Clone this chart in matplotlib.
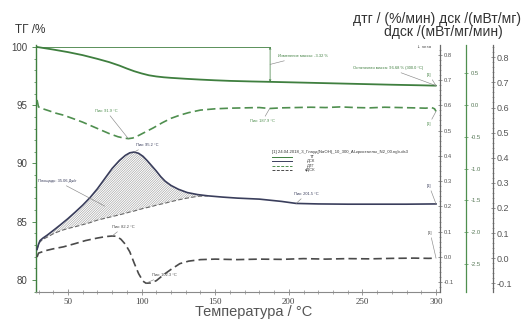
import numpy as np
import matplotlib
matplotlib.use("Agg")
import matplotlib.pyplot as plt
from matplotlib.lines import Line2D
from matplotlib.ticker import MultipleLocator, FormatStrFormatter

plt.rcParams['font.family'] = ['Liberation Sans', 'DejaVu Sans']
plt.rcParams['hatch.linewidth'] = 0.4

# ---------------- data ----------------
tg_T = [29, 35, 40, 50, 60, 70, 78, 85, 90, 95, 100, 105, 110, 115, 120, 130, 140,
        150, 160, 175, 190, 210, 230, 250, 270, 290, 300]
tg_v = [100.0, 99.88, 99.78, 99.56, 99.3, 98.98, 98.7, 98.4, 98.15, 97.92, 97.73, 97.57,
        97.47, 97.4, 97.35, 97.27, 97.2, 97.14, 97.09, 97.04, 97.0, 96.94, 96.88, 96.82,
        96.76, 96.71, 96.68]

dtg_T = [29, 30, 33, 37, 42, 47, 53, 60, 66, 72, 78, 84, 88, 91, 94, 98, 103, 108, 114,
         120, 126, 132, 140, 150, 160, 170, 180, 187, 195, 205, 215, 225, 235, 245, 255,
         265, 275, 285, 293, 297, 299, 300]
dtg_v = [0.08, -0.03, -0.06, -0.09, -0.13, -0.16, -0.21, -0.27, -0.33, -0.39, -0.45, -0.5,
         -0.52, -0.53, -0.52, -0.48, -0.42, -0.36, -0.28, -0.21, -0.16, -0.12, -0.08,
         -0.06, -0.05, -0.045, -0.04, -0.055, -0.045, -0.04, -0.035, -0.04, -0.03, -0.04,
         -0.045, -0.035, -0.04, -0.045, -0.05, -0.04, -0.06, -0.1]

dsc_T = [29, 30, 31, 33, 36, 40, 45, 50, 55, 60, 65, 70, 75, 80, 85, 89, 92, 95, 98, 101,
         104, 107, 110, 113, 116, 120, 125, 131, 138, 145, 155, 165, 180, 195, 205, 220,
         240, 260, 280, 300]
dsc_v = [0.03, 0.05, 0.065, 0.075, 0.087, 0.105, 0.128, 0.152, 0.178, 0.205, 0.235, 0.27,
         0.31, 0.35, 0.382, 0.402, 0.412, 0.415, 0.41, 0.398, 0.38, 0.36, 0.34, 0.318, 0.3,
         0.283, 0.268, 0.255, 0.247, 0.242, 0.237, 0.233, 0.229, 0.22, 0.212, 0.21, 0.209,
         0.209, 0.209, 0.21]
# integration baseline (same temperatures as the first dsc points)
base_v = [0.03, 0.05, 0.06, 0.07, 0.079, 0.092, 0.104, 0.113, 0.12, 0.128, 0.136, 0.146,
          0.153, 0.16, 0.167, 0.173, 0.178, 0.182, 0.187, 0.192, 0.196, 0.2, 0.205, 0.209,
          0.213, 0.219, 0.226, 0.233, 0.24, 0.242]

ddsc_T = [29, 30, 35, 40, 47, 55, 62, 70, 76, 80, 83, 86, 89, 92, 95, 98, 101, 103, 106,
          110, 115, 120, 126, 132, 140, 150, 165, 180, 195, 210, 225, 240, 255, 270, 285,
          295, 300]
ddsc_v = [0.004, 0.02, 0.03, 0.037, 0.045, 0.058, 0.07, 0.08, 0.086, 0.088, 0.087, 0.075,
          0.055, 0.025, -0.02, -0.062, -0.092, -0.1, -0.099, -0.09, -0.066, -0.045, -0.022,
          -0.012, -0.006, -0.004, -0.006, -0.004, -0.005, -0.002, -0.004, -0.002, -0.003,
          -0.001, 0.0, -0.001, 0.0]

x_ticks = [50, 100, 150, 200, 250, 300]
tg_ticks = [80, 85, 90, 95, 100]
dsc_ticks = [-0.1, 0.0, 0.1, 0.2, 0.3, 0.4, 0.5, 0.6, 0.7, 0.8]
dtg_ticks = [-2.5, -2.0, -1.5, -1.0, -0.5, 0.0, 0.5]
ddsc_ticks = [-0.1, 0.0, 0.1, 0.2, 0.3, 0.4, 0.5, 0.6, 0.7, 0.8]

# ---------------- style ----------------
C_TG = '#3f7f3f'
C_DTG = '#4f8f4f'
C_DSC = '#3a3e5c'
C_DDSC = '#4a4a4a'
C_LEAD = '#8a8a8a'

W_PX, H_PX = 523, 322
AX_L, AX_R, AX_T, AX_B = 36, 440, 45, 292

fig = plt.figure(figsize=(W_PX / 100, H_PX / 100), dpi=100)
ax = fig.add_axes([AX_L / W_PX, 1 - AX_B / H_PX, (AX_R - AX_L) / W_PX, (AX_B - AX_T) / H_PX])
ax.patch.set_alpha(0)


def pf(x, y):
    """pixel position -> axes fraction (for text placement)"""
    return ((x - AX_L) / (AX_R - AX_L), (AX_B - y) / (AX_B - AX_T))


ax.set_xlim(28.3, 302.7)
ax.set_ylim(78.97, 100.17)
for s in ['top', 'right']:
    ax.spines[s].set_visible(False)
ax.spines['left'].set_color(C_TG)
ax.spines['left'].set_linewidth(1.0)
ax.spines['bottom'].set_color('#8a8a8a')
ax.spines['bottom'].set_linewidth(0.8)
ax.set_xticks(x_ticks)
ax.xaxis.set_minor_locator(MultipleLocator(10))
ax.set_yticks(tg_ticks)
ax.yaxis.set_minor_locator(MultipleLocator(1))
ax.tick_params(axis='x', which='major', direction='inout', length=4, width=0.6,
               color='#8a8a8a', labelsize=6.5, labelcolor='#444444', pad=2)
ax.tick_params(axis='x', which='minor', direction='inout', length=2.5, width=0.5, color='#8a8a8a')
ax.tick_params(axis='y', which='major', direction='out', length=3, width=0.6,
               color=C_TG, labelsize=7, labelcolor='#444444', pad=3)
ax.tick_params(axis='y', which='minor', direction='out', length=1.5, width=0.5, color=C_TG)
for lab in ax.get_xticklabels():
    lab.set_family(['Liberation Sans Narrow', 'Liberation Serif', 'DejaVu Sans'])

fig.text(254 / W_PX, 1 - 312 / H_PX, 'Температура / °C', fontsize=10.5, color='#555555',
         va='center', ha='center')


def make_twin(offset, color, lim, ticks, minor, lsize, lcolor):
    t = ax.twinx()
    t.set_ylim(*lim)
    for s in ['left', 'top', 'bottom']:
        t.spines[s].set_visible(False)
    t.spines['right'].set_position(('outward', offset))
    t.spines['right'].set_color(color)
    t.spines['right'].set_linewidth(0.9)
    t.set_yticks(ticks)
    if minor:
        t.yaxis.set_minor_locator(MultipleLocator(minor))
    t.tick_params(axis='y', which='major', direction='inout', length=3, width=0.5,
                  color=color, labelsize=lsize, labelcolor=lcolor, pad=1.5)
    t.tick_params(axis='y', which='minor', direction='inout', length=1.5, width=0.4, color=color)
    t.yaxis.set_major_formatter(FormatStrFormatter('%.1f'))
    return t


ax_dsc = make_twin(0, '#6a6a6a', (-0.138, 0.838), dsc_ticks, 0.02, 4.2, '#555555')
ax_dtg = make_twin(19, C_DTG, (-2.945, 0.945), dtg_ticks, None, 4.2, '#557755')
ax_ddsc = make_twin(38, '#6a6a6a', (-0.135, 0.849), ddsc_ticks, 0.02, 6.5, '#555555')

# ---------------- curves ----------------
ax.plot(tg_T, tg_v, color=C_TG, lw=1.3, solid_capstyle='round')
ax_dtg.plot(dtg_T, dtg_v, color=C_DTG, lw=1.2, dashes=(5, 2.5))
nb = len(base_v)
ax_dsc.fill_between(dsc_T[:nb], base_v, dsc_v[:nb], facecolor='none', edgecolor='#999999',
                    hatch='/' * 14, linewidth=0)
ax_dsc.plot(dsc_T[:nb], base_v, color='#6a6a6a', lw=0.8, dashes=(4, 2))
ax_dsc.plot(dsc_T, dsc_v, color=C_DSC, lw=1.2)
ax_ddsc.plot(ddsc_T, ddsc_v, color=C_DDSC, lw=1.2, dashes=(5, 2.5))

# ---------------- annotations ----------------
lead = dict(arrowstyle='-', lw=0.45, color=C_LEAD, shrinkA=0, shrinkB=0)
fs = 2.9

# TG: mass change
T_mc = 187.3
tg_at = np.interp(T_mc, tg_T, tg_v)
ax.plot([tg_T[0], T_mc], [tg_v[0], tg_v[0]], color=C_TG, lw=0.6)
ax.annotate('', xy=(T_mc, tg_at), xytext=(T_mc, tg_v[0]),
            arrowprops=dict(arrowstyle='<->', lw=0.5, color=C_TG, mutation_scale=3,
                            shrinkA=0, shrinkB=0))
ax.annotate('Изменение массы: -3.32 %', xy=(T_mc, (tg_v[0] + tg_at) / 2),
            xytext=pf(278, 56), textcoords='axes fraction', fontsize=fs, color=C_TG,
            va='center', arrowprops=lead)
ax.annotate('Остаточная масса: 96.68 % (300.0 °C)', xy=(tg_T[-1], tg_v[-1]),
            xytext=pf(353, 68), textcoords='axes fraction', fontsize=fs, color=C_TG,
            va='center', arrowprops=lead)
ax.annotate('[1]', xy=(tg_T[-1], tg_v[-1]), xytext=pf(427, 75), textcoords='axes fraction',
            fontsize=fs, color=C_TG, va='center', arrowprops=lead)

# DTG peaks
i_min = int(np.argmin(dtg_v))
ax_dtg.annotate('Пик: 91.9 °C', xy=(dtg_T[i_min], dtg_v[i_min]), xytext=pf(95, 111),
                textcoords='axes fraction', fontsize=fs, color=C_DTG, va='center',
                arrowprops=lead)
i187 = dtg_T.index(187)
ax_dtg.annotate('Пик: 187.9 °C', xy=(dtg_T[i187], dtg_v[i187]), xytext=pf(250, 121),
                textcoords='axes fraction', fontsize=fs, color=C_DTG, va='center',
                arrowprops=lead)
ax_dtg.annotate('[1]', xy=(dtg_T[-1], dtg_v[-1]), xytext=pf(427, 124),
                textcoords='axes fraction', fontsize=fs, color=C_DTG, va='center',
                arrowprops=lead)

# DSC
i_pk = int(np.argmax(dsc_v))
ax_dsc.annotate('Пик: 95.2 °C', xy=(dsc_T[i_pk], dsc_v[i_pk]), xytext=pf(136, 145),
                textcoords='axes fraction', fontsize=fs, color=C_DSC, va='center',
                arrowprops=lead)
i_mid = dsc_T.index(75)
ax_dsc.annotate('Площадь: 35.06 Дж/г', xy=(dsc_T[i_mid], (dsc_v[i_mid] + base_v[i_mid]) / 2 - 0.03),
                xytext=pf(38, 181), textcoords='axes fraction', fontsize=fs, color=C_DSC,
                va='center', arrowprops=lead)
i201 = dsc_T.index(205)
ax_dsc.annotate('Пик: 201.5 °C', xy=(dsc_T[i201], dsc_v[i201]), xytext=pf(294, 194),
                textcoords='axes fraction', fontsize=fs, color=C_DSC, va='center',
                arrowprops=lead)
ax_dsc.annotate('[1]', xy=(dsc_T[-1], dsc_v[-1]), xytext=pf(427, 186),
                textcoords='axes fraction', fontsize=fs, color=C_DSC, va='center',
                arrowprops=lead)

# DDSC
i_mx = int(np.argmax(ddsc_v))
ax_ddsc.annotate('Пик: 82.2 °C', xy=(ddsc_T[i_mx], ddsc_v[i_mx]), xytext=pf(112, 227),
                 textcoords='axes fraction', fontsize=fs, color=C_DDSC, va='center',
                 arrowprops=lead)
i_mn = int(np.argmin(ddsc_v))
ax_ddsc.annotate('Пик: 102.3 °C', xy=(ddsc_T[i_mn], ddsc_v[i_mn]), xytext=pf(152, 275),
                 textcoords='axes fraction', fontsize=fs, color=C_DDSC, va='center',
                 arrowprops=lead)
ax_ddsc.annotate('[1]', xy=(ddsc_T[-1], ddsc_v[-1]), xytext=pf(428, 233),
                 textcoords='axes fraction', fontsize=fs, color=C_DDSC, va='center',
                 arrowprops=lead)

ax.text(*pf(417, 47), '↓ экзо', transform=ax.transAxes, fontsize=3, color='#444444',
        va='center', family=['DejaVu Sans'])

# ---------------- legend (manual) ----------------
ax.text(*pf(272, 152), '[1] 24.04.2018_3_Глауд(NaOH)_10_300_Al-кристаллы_N2_00.ngb-ds3',
        transform=ax.transAxes, fontsize=3.1, color='#333333', va='center')
leg = [('ТГ', C_TG, None), ('ДСК', C_DSC, None), ('ДТГ', C_DTG, (3, 1.5)),
       ('dДСК', C_DDSC, (3, 1.5))]
for k, (lab, col, dash) in enumerate(leg):
    yy = 157 + k * 4.3
    x0, y0 = pf(272, yy)
    x1, _ = pf(292, yy)
    ln = Line2D([x0, x1], [y0, y0], transform=ax.transAxes, color=col, lw=0.7)
    if dash:
        ln.set_dashes(dash)
    ax.add_line(ln)
    ax.text(*pf(315, yy), lab, transform=ax.transAxes, fontsize=3, color='#333333',
            va='center', ha='right')

# ---------------- axis titles ----------------
fig.text(15 / W_PX, 1 - 30 / H_PX, 'ТГ /%', fontsize=8.5, color='#333333', va='center')
fig.text(521 / W_PX, 1 - 19 / H_PX, 'дтг / (%/мин) дск /(мВт/мг)', fontsize=10,
         color='#333333', va='center', ha='right')
fig.text(443 / W_PX, 1 - 32 / H_PX, 'dдск /(мВт/мг/мин)', fontsize=10,
         color='#333333', va='center', ha='center')

fig.savefig('out.png', dpi=100)
